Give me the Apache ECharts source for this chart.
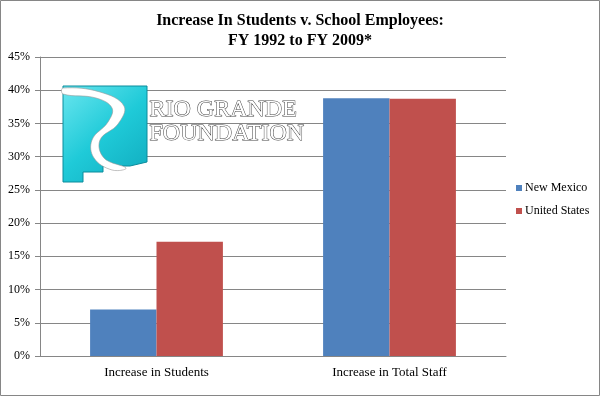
<!DOCTYPE html>
<html><head><meta charset="utf-8">
<script src="https://cdn.jsdelivr.net/npm/echarts@6/dist/echarts.min.js"></script>
<style>html,body{margin:0;padding:0;background:#fff}#c{width:600px;height:396px}</style>
</head><body><div id="c"></div>
<script>
var categories = ['Increase in Students', 'Increase in Total Staff'];
var newMexico = [7.0, 38.8];
var unitedStates = [17.2, 38.7];
var yTicks = [0, 5, 10, 15, 20, 25, 30, 35, 40, 45];

var chart = echarts.init(document.getElementById('c'));
var serif = 'Liberation Serif';
chart.setOption({
  animation: false,
  backgroundColor: '#fff',
  textStyle: {fontFamily: serif},
  title: {
    text: 'Increase In Students v. School Employees:\nFY 1992 to FY 2009*',
    left: 'center', top: 6,
    textStyle: {fontFamily: serif, fontSize: 16, fontWeight: 'bold', color: '#000', lineHeight: 20}
  },
  legend: {
    orient: 'vertical', left: 511, top: 177,
    itemWidth: 6, itemHeight: 6, itemGap: 11,
    icon: 'rect',
    textStyle: {fontFamily: serif, fontSize: 12, color: '#000', padding: [0, 0, 0, -2]},
    data: ['New Mexico', 'United States']
  },
  grid: {left: 40, right: 94, top: 57, bottom: 40},
  xAxis: {
    type: 'category', data: categories,
    axisLine: {lineStyle: {color: '#868686'}},
    axisTick: {lineStyle: {color: '#868686'}, length: 5},
    axisLabel: {fontFamily: serif, fontSize: 13, color: '#000', margin: 10}
  },
  yAxis: {
    type: 'value', min: 0, max: 45, interval: 5,
    axisLine: {show: true, lineStyle: {color: '#868686'}},
    axisTick: {show: true, lineStyle: {color: '#868686'}, length: 5},
    splitLine: {lineStyle: {color: '#868686'}},
    axisLabel: {fontFamily: serif, fontSize: 12, color: '#000', margin: 10,
      formatter: function (v) { return yTicks.indexOf(v) >= 0 ? v + '%' : ''; }}
  },
  series: [
    {name: 'New Mexico', type: 'bar', data: newMexico, barGap: '0%', barCategoryGap: '43%',
     itemStyle: {color: '#4f81bd'}},
    {name: 'United States', type: 'bar', data: unitedStates,
     itemStyle: {color: '#c0504d'}}
  ],
  graphic: [
    {type: 'rect', z: 100, shape: {x: 0.5, y: 0.5, width: 599, height: 395},
     style: {fill: 'none', stroke: '#868686', lineWidth: 1}},
    {type: 'polygon', z: 50,
     shape: {points: [[63,86],[147,86],[147,162],[130,166],[103,166],[103,172],[83,172],[83,182],[63,182]]},
     style: {fill: new echarts.graphic.LinearGradient(0,0,1,1,[{offset:0,color:'#6ae6ef'},{offset:0.5,color:'#1fcad8'},{offset:1,color:'#10aabd'}]),
             stroke: '#0b8c9c', lineWidth: 1}},
    {type: 'polygon', z: 51,
     shape: {smooth: 0.4, points: [[63,88],[100,92],[124,106],[118,124],[100,140],[104,158],[126,168],[112,170],[94,158],[92,140],[108,122],[112,108],[96,98],[63,94]]},
     style: {fill: '#ffffff', stroke: '#999', lineWidth: 0.6}},
    {type: 'text', z: 52, left: 149, top: 97,
     style: {text: 'RIO GRANDE', fontFamily: serif, fontSize: 24, fill: '#fff', stroke: '#444', lineWidth: 1}},
    {type: 'text', z: 52, left: 149, top: 121,
     style: {text: 'FOUNDATION', fontFamily: serif, fontSize: 24, fill: '#fff', stroke: '#444', lineWidth: 1}}
  ]
});
</script></body></html>
